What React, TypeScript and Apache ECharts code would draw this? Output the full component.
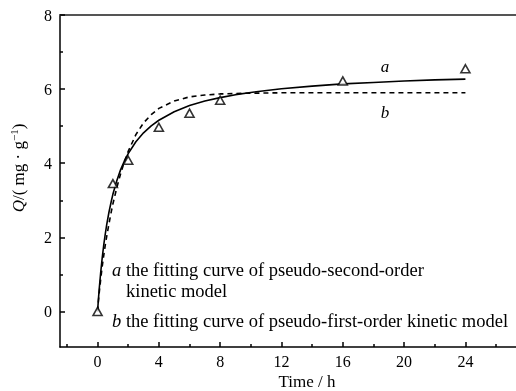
import React, { useEffect, useRef } from "react";
import * as echarts from "echarts";

const timesObs = [0, 1, 2, 4, 6, 8, 16, 24];
const qObs = [0, 3.45, 4.08, 4.97, 5.35, 5.7, 6.22, 6.55];

const timesFit = [0, 0.05, 0.1, 0.2, 0.3, 0.4, 0.5, 0.6, 0.75, 0.9, 1, 1.25, 1.5, 1.75, 2, 2.5, 3, 3.5, 4, 5, 6, 7, 8, 9, 10, 12, 14, 16, 18, 20, 22, 24];
const qSecondOrder = [0, 0.29, 0.56, 1.03, 1.43, 1.78, 2.08, 2.35, 2.69, 2.98, 3.16, 3.52, 3.82, 4.06, 4.26, 4.58, 4.82, 5.01, 5.16, 5.39, 5.56, 5.68, 5.77, 5.85, 5.91, 6.01, 6.08, 6.14, 6.18, 6.22, 6.25, 6.27];
const qFirstOrder = [0, 0.25, 0.47, 0.85, 1.2, 1.5, 1.78, 2.03, 2.38, 2.7, 2.9, 3.33, 3.71, 4.04, 4.32, 4.77, 5.09, 5.31, 5.48, 5.68, 5.79, 5.84, 5.87, 5.88, 5.89, 5.9, 5.9, 5.9, 5.9, 5.9, 5.9, 5.9];

const xMajorTicks = [0, 4, 8, 12, 16, 20, 24];
const xMinorTicks = [-2, 2, 6, 10, 14, 18, 22, 26];
const yMajorTicks = [0, 2, 4, 6, 8];
const yMinorTicks = [1, 3, 5, 7];

const FONT = "'Liberation Serif', 'DejaVu Serif', serif";

export default function App() {
  const ref = useRef<HTMLDivElement>(null);
  useEffect(() => {
    if (!ref.current) return;
    const chart = echarts.init(ref.current, undefined, { renderer: "svg" });
    const pairs = (xs: number[], ys: number[]) => xs.map((x, i) => [x, ys[i]]);
    const xRange = { min: -2.45, max: 27.3 };
    const yRange = { min: -0.96, max: 8 };
    const tickStyle = { color: "#000", width: 1.5 };
    chart.setOption({
      animation: false,
      grid: { left: 60, top: 15, right: 0, bottom: 44 },
      xAxis: [
        {
          type: "value",
          ...xRange,
          position: "bottom",
          axisLine: { show: true, onZero: false, lineStyle: { color: "#000", width: 1.5 } },
          axisTick: { show: true, inside: true, length: 5, customValues: xMajorTicks, lineStyle: tickStyle },
          axisLabel: { customValues: xMajorTicks, margin: 6, color: "#000", fontSize: 16, fontFamily: FONT },
          splitLine: { show: false },
        },
        {
          type: "value",
          ...xRange,
          position: "bottom",
          axisLine: { show: false, onZero: false },
          axisTick: { show: true, inside: true, length: 3, customValues: xMinorTicks, lineStyle: tickStyle },
          axisLabel: { show: false },
          splitLine: { show: false },
        },
        {
          type: "value",
          ...xRange,
          position: "top",
          axisLine: { show: true, onZero: false, lineStyle: { color: "#555", width: 2 } },
          axisTick: { show: false },
          axisLabel: { show: false },
          splitLine: { show: false },
        },
      ],
      yAxis: [
        {
          type: "value",
          ...yRange,
          position: "left",
          axisLine: { show: true, onZero: false, lineStyle: { color: "#000", width: 1.5 } },
          axisTick: { show: true, inside: true, length: 5, customValues: yMajorTicks, lineStyle: tickStyle },
          axisLabel: { customValues: yMajorTicks, margin: 8, color: "#000", fontSize: 16, fontFamily: FONT },
          splitLine: { show: false },
        },
        {
          type: "value",
          ...yRange,
          position: "left",
          axisLine: { show: false, onZero: false },
          axisTick: { show: true, inside: true, length: 3, customValues: yMinorTicks, lineStyle: tickStyle },
          axisLabel: { show: false },
          splitLine: { show: false },
        },
      ],
      series: [
        {
          type: "line",
          name: "a",
          data: pairs(timesFit, qSecondOrder),
          smooth: false,
          showSymbol: false,
          lineStyle: { color: "#000", width: 1.6 },
          z: 3,
        },
        {
          type: "line",
          name: "b",
          data: pairs(timesFit, qFirstOrder),
          smooth: false,
          showSymbol: false,
          lineStyle: { color: "#000", width: 1.6, type: [5, 4] },
          z: 3,
        },
        {
          type: "scatter",
          name: "observed",
          data: pairs(timesObs, qObs),
          symbol: "triangle",
          symbolSize: [9, 8],
          itemStyle: { color: "#fff", borderColor: "#000", borderWidth: 1.6 },
          z: 4,
        },
      ],
      graphic: [
        {
          type: "text",
          x: 18,
          y: 168,
          rotation: Math.PI / 2,
          style: {
            text: "{i|Q}/( mg · g{sup|−1})",
            fontFamily: FONT,
            fontSize: 17,
            fill: "#000",
            align: "center",
            verticalAlign: "middle",
            rich: {
              i: { fontStyle: "italic", fontSize: 17, fontFamily: FONT },
              sup: { fontSize: 11, fontFamily: FONT, padding: [0, 0, 8, 0] },
            },
          },
        },
        {
          type: "text",
          x: 307,
          y: 381,
          style: { text: "Time / h", fontFamily: FONT, fontSize: 17, fill: "#000", align: "center", verticalAlign: "middle" },
        },
        {
          type: "text",
          x: 385,
          y: 66,
          style: { text: "a", fontFamily: FONT, fontStyle: "italic", fontSize: 17, fill: "#000", align: "center", verticalAlign: "middle" },
        },
        {
          type: "text",
          x: 385,
          y: 112,
          style: { text: "b", fontFamily: FONT, fontStyle: "italic", fontSize: 17, fill: "#000", align: "center", verticalAlign: "middle" },
        },
        {
          type: "text",
          x: 112,
          y: 270,
          style: {
            text: "{i|a} the fitting curve of pseudo-second-order",
            fontFamily: FONT,
            fontSize: 18.5,
            fill: "#000",
            verticalAlign: "middle",
            rich: { i: { fontStyle: "italic", fontSize: 18.5, fontFamily: FONT } },
          },
        },
        {
          type: "text",
          x: 126,
          y: 291,
          style: { text: "kinetic model", fontFamily: FONT, fontSize: 18.5, fill: "#000", verticalAlign: "middle" },
        },
        {
          type: "text",
          x: 112,
          y: 321,
          style: {
            text: "{i|b} the fitting curve of pseudo-first-order kinetic model",
            fontFamily: FONT,
            fontSize: 18.5,
            fill: "#000",
            verticalAlign: "middle",
            rich: { i: { fontStyle: "italic", fontSize: 18.5, fontFamily: FONT } },
          },
        },
      ],
    });
    return () => chart.dispose();
  }, []);
  return <div ref={ref} style={{ width: 516, height: 391, position: "fixed", left: 0, top: 0 }} />;
}
